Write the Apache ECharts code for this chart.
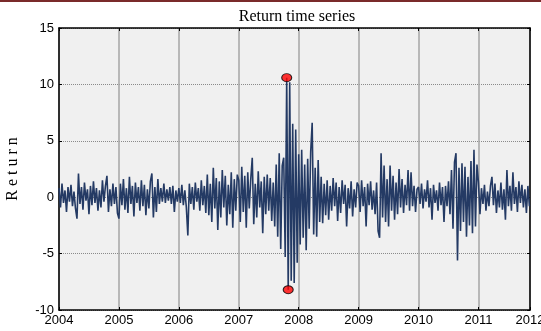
<!DOCTYPE html>
<html>
<head>
<meta charset="utf-8">
<script src="https://cdn.jsdelivr.net/npm/echarts@6/dist/echarts.min.js"></script>
<style>
html,body{margin:0;padding:0;background:#fff;}
#chart{width:541px;height:331px;}
</style>
</head>
<body>
<div id="chart"></div>
<script>
// Year labels and per-year daily-ish return samples
const years = [2004, 2005, 2006, 2007, 2008, 2009, 2010, 2011];
const tickLabels = ['2004','2005','2006','2007','2008','2009','2010','2011','2012'];
const pointsPerYear = 40;

const r2004 = [0.8,-0.9,1.2,-0.5,0.6,-1.3,0.9,-0.4,1.1,-0.8,0.5,-1.0,-1.9,2.1,-0.6,0.9,-1.1,1.3,-0.3,0.7,-1.5,1.0,-0.7,1.4,-0.5,0.8,-1.2,0.6,-0.9,1.5,-0.4,1.0,1.9,-1.3,0.7,-0.8,1.2,-0.6,0.9,-1.4];
const r2005 = [-1.9,1.2,-0.7,1.6,-1.1,0.8,-1.4,1.8,-0.6,1.0,-1.7,1.3,-0.5,0.9,-1.2,1.5,-0.8,1.1,-1.6,0.7,-1.0,1.4,2.1,-1.8,0.9,-1.3,1.6,-0.6,0.8,-0.4,1.2,-0.5,0.7,-0.3,0.9,-0.6,1.0,-1.3,0.6,-0.4];
const r2006 = [0.8,-0.5,1.1,-0.7,0.6,-0.9,-3.4,1.2,-0.6,0.9,-1.1,1.3,-0.4,0.8,-1.2,1.5,-0.7,1.0,-1.4,2.0,-1.6,1.2,-2.2,2.6,-1.0,1.7,-2.9,1.4,-1.8,2.4,-0.9,1.9,-2.5,1.1,-1.5,2.2,-2.7,1.6,-1.2,2.0];
const r2007 = [1.5,-2.2,2.7,-1.3,1.9,-2.7,2.2,-1.0,1.6,3.5,-2.4,1.2,-1.8,2.3,-0.9,1.4,-3.2,1.8,-1.5,2.0,-1.2,1.7,-2.1,1.3,-2.6,2.9,-3.5,3.9,-4.6,2.8,3.5,-5.3,10.6,-8.2,10.2,-7.4,6.5,-7.6,6.0,-5.8];
const r2008 = [3.8,-4.2,4.2,-3.6,2.9,-4.7,3.4,-2.8,4.0,6.6,-3.3,2.6,-3.5,3.3,-2.2,1.8,-2.3,1.2,-1.6,1.5,-2.0,1.0,-1.2,1.7,-0.8,1.3,-2.1,0.9,-1.4,1.5,-0.6,1.1,-2.6,0.8,-1.0,1.4,-1.7,0.7,-0.9,1.3];
const r2009 = [1.0,-1.3,1.5,-0.8,0.9,-2.6,1.2,-0.7,1.4,-1.1,0.6,-1.5,1.3,-3.0,-3.6,3.9,-1.8,2.8,-2.2,1.6,-2.6,2.8,-1.2,1.9,-2.0,1.3,-1.5,2.5,-0.9,1.6,-1.4,1.1,-0.7,2.4,-1.2,2.2,-0.8,1.0,-1.3,0.7];
const r2010 = [0.9,-0.6,1.2,-1.0,0.7,-0.4,1.5,-0.9,0.8,-2.0,1.1,-0.5,0.6,-1.2,1.3,-0.7,0.9,-2.2,1.0,-0.8,1.4,-1.5,2.4,-2.8,3.1,3.9,-5.6,2.6,-3.0,3.0,-2.2,2.7,-3.5,1.8,-2.5,3.2,-3.2,4.2,-2.6,2.9];
const r2011 = [1.3,-1.5,0.8,-0.6,1.1,-1.2,0.5,-0.8,1.0,1.8,-0.7,1.2,-1.4,0.6,-0.9,1.3,-1.1,0.7,-2.0,2.4,-0.8,1.0,-1.2,2.2,-0.6,0.9,-1.3,1.4,-0.5,1.1,-0.9,0.7,-1.4,1.0,-0.8];

const returnsByYear = [r2004, r2005, r2006, r2007, r2008, r2009, r2010, r2011];

const seriesData = [];
returnsByYear.forEach((arr, yi) => {
  arr.forEach((v, k) => seriesData.push([years[yi] + k / pointsPerYear, v]));
});
let maxPt = seriesData[0], minPt = seriesData[0];
seriesData.forEach(p => { if (p[1] > maxPt[1]) maxPt = p; if (p[1] < minPt[1]) minPt = p; });
const lastX = seriesData[seriesData.length - 1][0];

const chart = echarts.init(document.getElementById('chart'), null, {renderer: 'canvas'});
const xMax = lastX + 0.01;
chart.setOption({
  animation: false,
  backgroundColor: '#ffffff',
  title: {
    text: 'Return time series',
    left: 292, top: 4, textAlign: 'center',
    textStyle: {fontFamily: 'Liberation Serif', fontSize: 16, fontWeight: 'normal', color: '#000'}
  },
  graphic: [{
    type: 'rect', left: 0, top: 0, shape: {width: 541, height: 2},
    style: {fill: '#7a2a2a'}, silent: true
  }],
  grid: {left: 59, right: 11, top: 28, bottom: 21, show: true, backgroundColor: '#f0f0f0', borderWidth: 0,
         containLabel: false, outerBoundsMode: 'none'},
  xAxis: [{
    type: 'value', min: 2004, max: xMax, interval: 1,
    axisLine: {show: true, onZero: false, lineStyle: {color: '#000', width: 1.5}},
    axisTick: {show: true, inside: true, length: 3, lineStyle: {color: '#000'}},
    axisLabel: {
      color: '#000', fontFamily: 'Liberation Sans', fontSize: 13, margin: 4,
      showMinLabel: true, showMaxLabel: true,
      formatter: v => v > 2011.5 ? tickLabels[8] : tickLabels[Math.round(v) - 2004]
    },
    splitLine: {show: true, lineStyle: {color: '#a6a6a6', width: 1.5}}
  }, {
    type: 'value', min: 2004, max: xMax, interval: 1, position: 'top',
    axisLine: {show: true, onZero: false, lineStyle: {color: '#000', width: 1.5}},
    axisTick: {show: true, inside: true, length: 3, lineStyle: {color: '#000'}},
    axisLabel: {show: false}, splitLine: {show: false}
  }],
  yAxis: [{
    type: 'value', min: -10, max: 15, interval: 5,
    name: 'R e t u r n', nameLocation: 'middle', nameGap: 38, nameRotate: 90,
    nameTextStyle: {fontFamily: 'Liberation Serif', fontSize: 16, color: '#000'},
    axisLine: {show: true, onZero: false, lineStyle: {color: '#000', width: 1.5}},
    axisTick: {show: true, inside: true, length: 3, lineStyle: {color: '#000'}},
    axisLabel: {color: '#000', fontFamily: 'Liberation Sans', fontSize: 13, margin: 5},
    splitLine: {show: true, lineStyle: {color: '#8a8a8a', width: 1, type: [1, 1]}}
  }, {
    type: 'value', min: -10, max: 15, interval: 5, position: 'right',
    axisLine: {show: true, onZero: false, lineStyle: {color: '#000', width: 1.5}},
    axisTick: {show: true, inside: true, length: 3, lineStyle: {color: '#000'}},
    axisLabel: {show: false}, splitLine: {show: false}
  }],
  series: [{
    type: 'line', data: seriesData, showSymbol: false, symbol: 'none',
    lineStyle: {color: '#243a64', width: 1.6}, z: 3
  }, {
    type: 'scatter', data: [maxPt, minPt], symbol: 'circle', symbolSize: [10, 8],
    itemStyle: {color: '#ff0000', borderColor: '#000', borderWidth: 1}, z: 5
  }]
});
</script>
</body>
</html>
